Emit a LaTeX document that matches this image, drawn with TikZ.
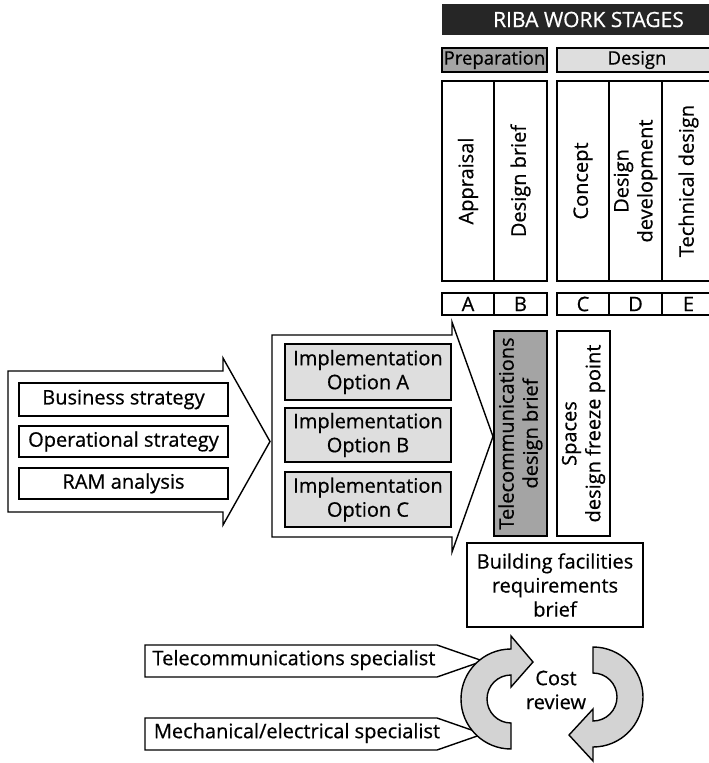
\documentclass[tikz,border=0pt]{standalone}
\usepackage{fontspec}
\setmainfont{Open Sans}[FakeBold=0.6,AutoFakeBold=0.6]
\newcommand\diagfont{\fontsize{20}{24}\bfseries\selectfont}
\newcommand\headfont{\fontsize{21}{24}\bfseries\selectfont}
\newcommand\groupfont{\fontsize{18.5}{22}\bfseries\selectfont}
\definecolor{darkfill}{HTML}{A4A4A4}
\definecolor{lightfill}{HTML}{DEDEDE}
\definecolor{ringfill}{HTML}{D3D3D3}
\definecolor{headfill}{HTML}{262626}
\begin{document}
\begin{tikzpicture}[x=1pt,y=-1pt,
  outline/.style={draw=black, line width=1.4pt, line join=miter},
  box/.style={outline, inner sep=0pt, align=center, font=\diagfont, text=black},
  colbox/.style={box, rotate=90, minimum width=200pt},
  letterbox/.style={box, minimum height=22pt},
  label/.style={inner sep=0pt, align=center, font=\diagfont, text=black}]
\clip (0,0) rectangle (709,763);
\fill[white] (0,0) rectangle (709,763);

% header and stage groups
\node[fill=headfill, minimum width=293pt, minimum height=31pt, inner sep=0pt,
  text=white, font=\headfont] (riba) at (588.5,19.5) {RIBA WORK STAGES};
\node[box, fill=darkfill, minimum width=105pt, minimum height=24pt, font=\groupfont] (prep) at (494.5,60) {Preparation};
\node[box, fill=lightfill, minimum width=160pt, minimum height=24pt, font=\groupfont] (design) at (637,60) {Design};

% stage columns
\node[colbox, minimum height=52pt] (appraisal) at (468,181) {Appraisal};
\node[colbox, minimum height=53pt] (dbrief) at (520.5,181) {Design brief};
\node[colbox, minimum height=52pt] (concept) at (583,181) {Concept};
\node[colbox, minimum height=53pt] (ddev) at (635.5,181) {Design\\development};
\node[colbox, minimum height=53pt] (tech) at (688.5,181) {Technical design};

% stage letters
\node[letterbox, minimum width=52pt] (la) at (468,304) {A};
\node[letterbox, minimum width=53pt] (lb) at (520.5,304) {B};
\node[letterbox, minimum width=52pt] (lc) at (583,304) {C};
\node[letterbox, minimum width=53pt] (ld) at (635.5,304) {D};
\node[letterbox, minimum width=53pt] (le) at (688.5,304) {E};

% strategy block arrow
\draw[outline, fill=white] (8,371) -- (223,371) -- (223,358) -- (270,441.5)
  -- (223,525) -- (223,512) -- (8,512) -- cycle;
\node[box, minimum width=209pt, minimum height=33pt] (business) at (123.5,399.5) {Business strategy};
\node[box, minimum width=209pt, minimum height=31pt] (operational) at (123.5,441.5) {Operational strategy};
\node[box, minimum width=209pt, minimum height=31pt] (ram) at (123.5,483.5) {RAM analysis};

% implementation options block arrow
\draw[outline, fill=white] (272,335) -- (452,335) -- (452,322) -- (493,436.5)
  -- (452,552) -- (452,537) -- (272,537) -- cycle;
\node[box, fill=lightfill, minimum width=166pt, minimum height=56pt] (optA) at (368,372) {Implementation\\Option A};
\node[box, fill=lightfill, minimum width=166pt, minimum height=54pt] (optB) at (368,435) {Implementation\\Option B};
\node[box, fill=lightfill, minimum width=166pt, minimum height=55pt] (optC) at (368,499.5) {Implementation\\Option C};

% briefs
\node[box, fill=darkfill, rotate=90, minimum width=205pt, minimum height=53pt] (telbrief) at (520.5,433.5) {Telecommunications\\design brief};
\node[box, rotate=90, minimum width=205pt, minimum height=53pt] (spaces) at (583.5,433.5) {Spaces\\design freeze point};
\node[box, minimum width=176pt, minimum height=84pt] (bfrb) at (555,585) {Building facilities\\requirements\\brief};

% specialist tags
\draw[outline, fill=white] (145,645) -- (437,645) -- (483,661) -- (437,677) -- (145,677) -- cycle;
\node[label] (telspec) at (294,660) {Telecommunications specialist};
\draw[outline, fill=white] (145,718) -- (437,718) -- (483,734) -- (437,750) -- (145,750) -- cycle;
\node[label] (mechspec) at (297,733) {Mechanical/electrical specialist};

% cost review cycle
\draw[outline, fill=ringfill] (511,749) arc[start angle=90, end angle=270, radius=50]
  -- (511,636) -- (533,662) -- (511,687) -- (511,675)
  arc[start angle=270, end angle=90, radius=24] -- cycle;
\draw[outline, fill=ringfill] (593,647) arc[start angle=270, end angle=450, radius=50]
  -- (593,761) -- (569,735) -- (593,709) -- (593,721)
  arc[start angle=90, end angle=-90, radius=24] -- cycle;
\node[label] (cost) at (556,690) {Cost\\review};
\end{tikzpicture}
\end{document}
